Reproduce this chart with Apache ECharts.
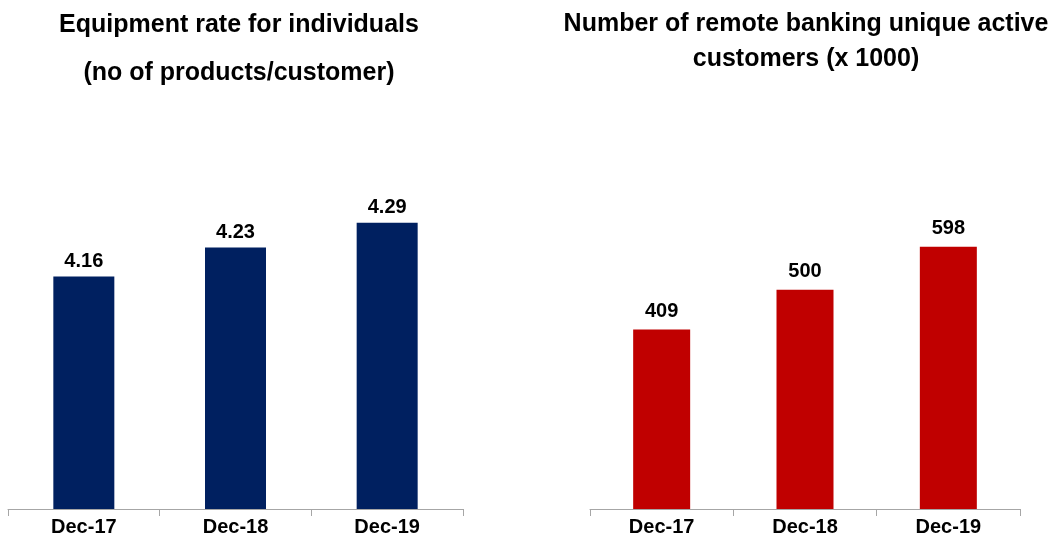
<!DOCTYPE html>
<html>
<head>
<meta charset="utf-8">
<script src="https://cdn.jsdelivr.net/npm/echarts@6/dist/echarts.min.js"></script>
<style>html,body{margin:0;padding:0;background:#fff}#c{width:1048px;height:544px}</style>
</head>
<body>
<div id="c"></div>
<script>
const categories = ['Dec-17', 'Dec-18', 'Dec-19'];
const equipmentRate = [4.16, 4.23, 4.29];
const remoteCustomers = [409, 500, 598];
const leftTitle1 = 'Equipment rate for individuals';
const leftTitle2 = '(no of products/customer)';
const rightTitle = 'Number of remote banking unique active\ncustomers (x 1000)';

const FONT = '"Liberation Sans", Arial, sans-serif';
const chart = echarts.init(document.getElementById('c'), null, {renderer: 'canvas'});

function catAxis(gi) {
  return {
    type: 'category', gridIndex: gi, data: categories, boundaryGap: true,
    axisLine: {show: true, lineStyle: {color: '#a6a6a6', width: 1}},
    axisTick: {show: true, alignWithLabel: false, length: 7, lineStyle: {color: '#a6a6a6'}},
    axisLabel: {color: '#000', fontFamily: FONT, fontWeight: 'bold', fontSize: 20, margin: 8}
  };
}
function valAxis(gi, min, max) {
  return {
    type: 'value', gridIndex: gi, min: min, max: max,
    axisLine: {show: false}, axisTick: {show: false}, axisLabel: {show: false}, splitLine: {show: false}
  };
}
const labelStyle = {show: true, position: 'top', distance: 8, color: '#000', fontFamily: FONT, fontWeight: 'bold', fontSize: 20};
const titleStyle = {fontFamily: FONT, fontWeight: 'bold', fontSize: 25, color: '#000'};

chart.setOption({
  animation: false,
  title: [
    {text: leftTitle1, left: 234, top: 8, textAlign: 'center', textStyle: titleStyle},
    {text: leftTitle2, left: 234, top: 56, textAlign: 'center', textStyle: titleStyle},
    {text: rightTitle, left: 801, top: 2, textAlign: 'center',
     textStyle: Object.assign({}, titleStyle, {lineHeight: 35})}
  ],
  grid: [
    {left: 8, right: 585, top: 177, bottom: 35},
    {left: 590, right: 28, top: 158, bottom: 35}
  ],
  xAxis: [catAxis(0), catAxis(1)],
  yAxis: [valAxis(0, 3.6, 4.4), valAxis(1, 0, 800)],
  series: [
    {type: 'bar', xAxisIndex: 0, yAxisIndex: 0, data: equipmentRate, barWidth: 61,
     itemStyle: {color: '#002060'},
     label: Object.assign({}, labelStyle, {distance: 5, formatter: p => p.value.toFixed(2)})},
    {type: 'bar', xAxisIndex: 1, yAxisIndex: 1, data: remoteCustomers, barWidth: 57,
     itemStyle: {color: '#C00000'}, label: labelStyle}
  ]
});
</script>
</body>
</html>
